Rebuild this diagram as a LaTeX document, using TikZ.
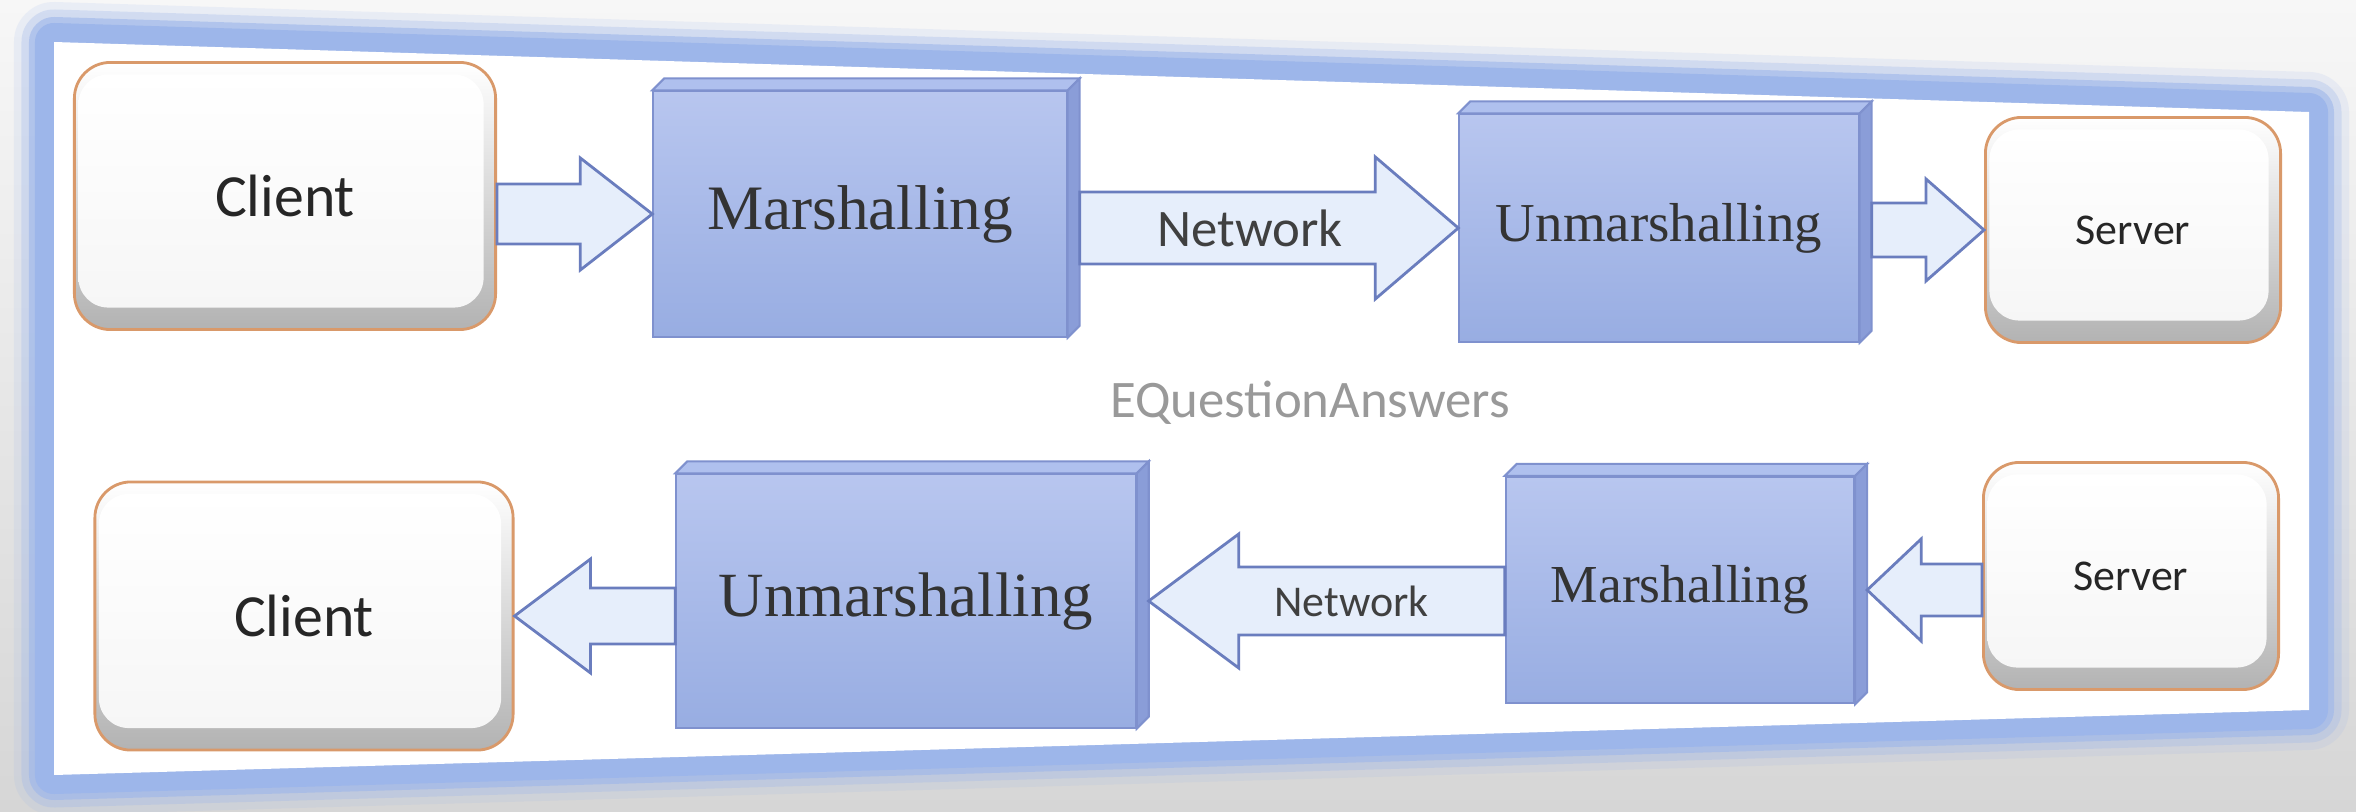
\documentclass[tikz,border=0pt]{standalone}
\usepackage{fontspec}
\setmainfont{Liberation Serif}
\newfontfamily\calibri{Carlito}
\usetikzlibrary{calc}

\definecolor{bgTop}{HTML}{F7F7F7}
\definecolor{bgBot}{HTML}{D6D6D6}
\definecolor{rimBlue}{HTML}{9DB6EA}
\definecolor{procTop}{HTML}{B8C6EF}
\definecolor{procBot}{HTML}{98ADE2}
\definecolor{procLine}{HTML}{7F91CE}
\definecolor{procSide}{HTML}{8A9DD8}
\definecolor{procLid}{HTML}{AFC0EE}
\definecolor{arrowFill}{HTML}{E6EEFB}
\definecolor{arrowLine}{HTML}{6A7DBE}
\definecolor{endLine}{HTML}{D9996A}

% block arrow: tail, tip, shaft half width, head half width, head length
\newcommand\blockarrow[5]{%
  \draw[flowarrow] ($(#1 |- #2)+(0,#3)$) -- ($(#2)+({-1*(#5)},#3)$) -- ($(#2)+({-1*(#5)},#4)$)
    -- (#2) -- ($(#2)+({-1*(#5)},-#4)$) -- ($(#2)+({-1*(#5)},-#3)$) -- ($(#1 |- #2)+(0,-#3)$) -- cycle;}

\begin{document}
\begin{tikzpicture}[x=0.01cm, y=-0.01cm, thick,
  endbox/.style={rounded corners=0.36cm, draw=endLine, line width=0.8pt, inner sep=0pt,
    text=black!85, font=\calibri,
    path picture={
      \shade[top color=white, bottom color=gray!60]
        (path picture bounding box.north west) rectangle (path picture bounding box.south east);
      \shade[rounded corners=0.3cm, top color=white, bottom color=gray!7]
        ($(path picture bounding box.north west)+(4,12)$) rectangle ($(path picture bounding box.south east)+(-12,-22)$);
    }},
  procbox/.style={draw=procLine, line width=0.6pt, top color=procTop, bottom color=procBot,
    inner sep=0pt, text=black!80},
  procside/.style={fill=procSide, draw=procLine, line width=0.6pt},
  proclid/.style={fill=procLid, draw=procLine, line width=0.6pt},
  flowarrow/.style={fill=arrowFill, draw=arrowLine, line width=0.8pt, line join=miter},
  netlabel/.style={font=\calibri, text=black!75, inner sep=0pt}]

  \useasboundingbox (0,0) rectangle (2356,812);

  % -- Background and slide frame --
  \shade[top color=bgTop, bottom color=bgBot] (0,0) rectangle (2356,812);
  \draw[rimBlue, line width=0.8cm, opacity=0.15, line join=round] (54,42) -- (2309,112) -- (2309,710) -- (54,775) -- cycle;
  \draw[rimBlue, line width=0.65cm, opacity=0.3, line join=round] (54,42) -- (2309,112) -- (2309,710) -- (54,775) -- cycle;
  \draw[rimBlue, line width=0.5cm, opacity=0.6, line join=round] (54,42) -- (2309,112) -- (2309,710) -- (54,775) -- cycle;
  \draw[rimBlue, line width=0.38cm, line join=round] (54,42) -- (2309,112) -- (2309,710) -- (54,775) -- cycle;
  \fill[white] (54,42) -- (2309,112) -- (2309,710) -- (54,775) -- cycle;

  % -- Top row: client to server --
  \node[endbox, minimum width=4.21cm, minimum height=2.67cm, font=\calibri\fontsize{17}{20}\selectfont] (c1) at (285,196) {Client};
  \node[procbox, minimum width=4.13cm, minimum height=2.45cm, font=\fontsize{18}{21}\selectfont] (m1) at (860,214) {Marshalling};
  \node[procbox, minimum width=3.99cm, minimum height=2.27cm, font=\fontsize{15.6}{19}\selectfont] (u1) at (1659,228) {Unmarshalling};
  \node[endbox, minimum width=2.95cm, minimum height=2.25cm, font=\calibri\fontsize{12.5}{15}\selectfont] (s1) at (2133,230) {Server};

  % -- Bottom row: server back to client --
  \node[endbox, minimum width=4.18cm, minimum height=2.68cm, font=\calibri\fontsize{17}{20}\selectfont] (c2) at (304,616) {Client};
  \node[procbox, minimum width=4.59cm, minimum height=2.53cm, font=\fontsize{17.9}{21}\selectfont] (u2) at (906,601) {Unmarshalling};
  \node[procbox, minimum width=3.48cm, minimum height=2.26cm, font=\fontsize{15.2}{18}\selectfont] (m2) at (1680,590) {Marshalling};
  \node[endbox, minimum width=2.95cm, minimum height=2.27cm, font=\calibri\fontsize{12.5}{15}\selectfont] (s2) at (2131,576) {Server};

  % -- Box depth --
  \foreach \n in {m1,u1,u2,m2} {
    \draw[proclid] (\n.north west) -- ++(12,-12) -- ($(\n.north east)+(12,-12)$) -- (\n.north east) -- cycle;
    \draw[procside] (\n.north east) -- ++(12,-12) -- ($(\n.south east)+(12,-12)$) -- (\n.south east) -- cycle;
    \coordinate (\n-rim) at ($(\n.east)+(12,0)$);
  }

  % -- Flow arrows --
  \blockarrow{c1.east}{m1.west}{30}{56}{72}
  \blockarrow{m1-rim}{u1.west}{36}{71}{83}
  \blockarrow{u1-rim}{s1.west}{27}{51}{58}
  \blockarrow{u2.west}{c2.east}{28}{57}{-76}
  \blockarrow{m2.west}{u2-rim}{34}{67}{-90}
  \blockarrow{s2.west}{m2-rim}{26}{51}{-54}

  % -- Network labels --
  \node[netlabel, font=\calibri\fontsize{15}{18}\selectfont] (net1) at ($(m1-rim |- u1.west)!0.45!(u1.west)$) {Network};
  \node[netlabel, font=\calibri\fontsize{12.5}{15}\selectfont] (net2) at ($(m2.west |- u2-rim)!0.43!(u2-rim)$) {Network};

  % -- Watermark --
  \node[font=\calibri\fontsize{15}{18}\selectfont, text=black!40] (mark) at (1310,403) {EQuestionAnswers};

\end{tikzpicture}
\end{document}
